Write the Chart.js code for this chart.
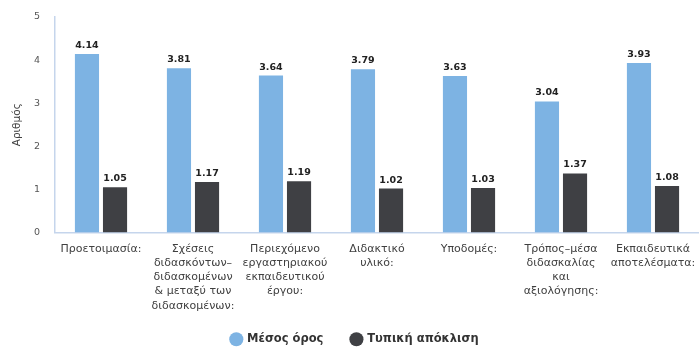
<!DOCTYPE html>
<html lang="el">
<head>
    <meta charset="UTF-8">
    <title>Αξιολόγηση</title>
    <script src="https://cdn.jsdelivr.net/npm/chart.js"></script>
    <style>
        body { margin: 0; background: #ffffff; }
        #wrap { width: 699px; height: 347px; }
    </style>
</head>
<body>
    <div id="wrap"><canvas id="chart"></canvas></div>

    <script>
        // Categories (multi-line labels) and the two series
        const categories = [
            ['Προετοιμασία:'],
            ['Σχέσεις', 'διδασκόντων–', 'διδασκομένων', '& μεταξύ των', 'διδασκομένων:'],
            ['Περιεχόμενο', 'εργαστηριακού', 'εκπαιδευτικού', 'έργου:'],
            ['Διδακτικό', 'υλικό:'],
            ['Υποδομές:'],
            ['Τρόπος–μέσα', 'διδασκαλίας', 'και', 'αξιολόγησης:'],
            ['Εκπαιδευτικά', 'αποτελέσματα:']
        ];
        const meanValues = [4.14, 3.81, 3.64, 3.79, 3.63, 3.04, 3.93];
        const stdValues = [1.05, 1.17, 1.19, 1.02, 1.03, 1.37, 1.08];
        const yTicks = [0, 1, 2, 3, 4, 5];

        const FONT = "'DejaVu Sans', 'Noto Sans', sans-serif";

        // value labels above each bar
        const barValues = {
            id: 'barValues',
            afterDatasetsDraw(chart) {
                const ctx = chart.ctx;
                ctx.save();
                ctx.font = 'bold 9.5px ' + FONT;
                ctx.fillStyle = '#222222';
                ctx.textAlign = 'center';
                ctx.textBaseline = 'alphabetic';
                chart.data.datasets.forEach((ds, i) => {
                    chart.getDatasetMeta(i).data.forEach((bar, j) => {
                        ctx.fillText(ds.data[j].toFixed(2), bar.x, bar.y - 6);
                    });
                });
                ctx.restore();
            }
        };

        // x labels run below their (shortened) box, so widen the clip area,
        // and push the legend a little lower than the layout places it
        const bottomFix = {
            id: 'bottomFix',
            afterLayout(chart) {
                chart.scales.x.bottom = chart.height;
                if (chart.legend) {
                    chart.legend.top += 8;
                    chart.legend.bottom += 8;
                }
            }
        };

        new Chart(document.getElementById('chart'), {
            type: 'bar',
            data: {
                labels: categories,
                datasets: [
                    {
                        label: 'Μέσος όρος',
                        data: meanValues,
                        backgroundColor: '#7DB3E3',
                        categoryPercentage: 0.61,
                        barPercentage: 0.86
                    },
                    {
                        label: 'Τυπική απόκλιση',
                        data: stdValues,
                        backgroundColor: '#3F4044',
                        categoryPercentage: 0.61,
                        barPercentage: 0.86
                    }
                ]
            },
            options: {
                responsive: true,
                maintainAspectRatio: false,
                animation: false,
                layout: { padding: { top: 17, right: 0, left: 11, bottom: 0 } },
                plugins: {
                    legend: {
                        position: 'bottom',
                        labels: {
                            usePointStyle: true,
                            pointStyle: 'circle',
                            boxWidth: 10,
                            boxHeight: 10,
                            padding: 28,
                            color: '#333333',
                            font: { family: FONT, size: 11.5, weight: 'bold' }
                        }
                    },
                    tooltip: { enabled: false }
                },
                scales: {
                    x: {
                        grid: { display: false, drawTicks: false },
                        border: { color: '#C5D5EC', width: 1.5 },
                        afterFit(scale) {
                            scale.height = 65;
                            scale.paddingLeft = 0;
                            scale.paddingRight = 0;
                        },
                        ticks: {
                            maxRotation: 0,
                            autoSkip: false,
                            padding: 9,
                            color: '#404040',
                            font: { family: FONT, size: 11, lineHeight: 1.3 }
                        }
                    },
                    y: {
                        min: 0,
                        max: 5,
                        afterBuildTicks(axis) {
                            axis.ticks = yTicks.map(v => ({ value: v }));
                        },
                        afterFit(scale) {
                            scale.width = 44;
                            scale.paddingTop = 0;
                            scale.paddingBottom = 0;
                        },
                        grid: { display: false, drawTicks: false },
                        border: { color: '#C5D5EC', width: 1.5 },
                        ticks: {
                            padding: 15,
                            color: '#555555',
                            font: { family: FONT, size: 9.5 }
                        },
                        title: {
                            display: true,
                            text: 'Αριθμός',
                            color: '#404040',
                            padding: { top: 0, bottom: 5 },
                            font: { family: FONT, size: 10.5 }
                        }
                    }
                }
            },
            plugins: [barValues, bottomFix]
        });
    </script>
</body>
</html>
